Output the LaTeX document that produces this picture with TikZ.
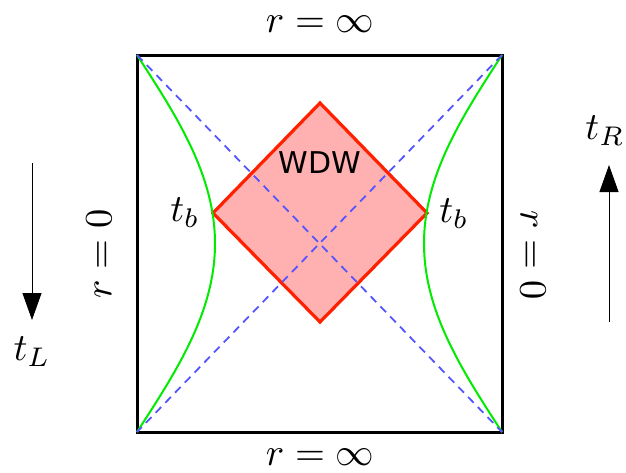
\documentclass[tikz,border=0pt]{standalone}
\usepackage{fontspec}
\newfontfamily\wdwfont{DejaVu Sans}
\usetikzlibrary{arrows.meta}
\definecolor{dashblue}{RGB}{85,85,255}
\definecolor{diamfill}{RGB}{255,176,176}
\definecolor{diamred}{RGB}{255,32,0}
\definecolor{curvegreen}{RGB}{0,235,0}
\begin{document}
\begin{tikzpicture}[x=1pt,y=-1pt,
  lbl/.style={scale=3.85,inner sep=0pt},
  boxline/.style={line width=3pt,black},
  nullline/.style={dashblue,line width=1.8pt,dash pattern=on 8pt off 6pt},
  horizon/.style={curvegreen,line width=2pt},
  wdwregion/.style={fill=diamfill,draw=diamred,line width=3.2pt,line join=miter},
  timearrow/.style={line width=0.9pt,-{Triangle[length=27pt,width=19pt]}}]
\useasboundingbox (0,0) rectangle (626,472);
\coordinate (tl) at (137,55);
\coordinate (tr) at (502,55);
\coordinate (br) at (502,432);
\coordinate (bl) at (137,432);
\coordinate (dt) at (320,103);
\coordinate (dl) at (213,213);
\coordinate (dr) at (427,213);
\coordinate (db) at (320,322);
\draw[boxline] (tl) -- (tr) -- (br) -- (bl) -- cycle;
\draw[wdwregion] (dt) -- (dr) -- (db) -- (dl) -- cycle;
\draw[horizon] plot[domain=-188.5:188.5,samples=80,variable=\q] ({137+78*cos(0.47745*\q)},{243.5+\q});
\draw[horizon] plot[domain=-188.5:188.5,samples=80,variable=\q] ({502-78*cos(0.47745*\q)},{243.5+\q});
\draw[nullline] (tl) -- (br);
\draw[nullline] (tr) -- (bl);
\node[font=\wdwfont\fontsize{30}{34}\selectfont] (wdw) at (320,163) {WDW};
\node[lbl] (tbl) at (185,213) {$t_b$};
\node[lbl] (tbr) at (454,214) {$t_b$};
\node[lbl] (rtop) at (320,24) {$r=\infty$};
\node[lbl] (rbot) at (320,457) {$r=\infty$};
\node[lbl,rotate=90] (rleft) at (99,254) {$r=0$};
\node[lbl,rotate=-90] (rright) at (533,255) {$r=0$};
\coordinate (la) at (32,163);
\coordinate (lb) at (32,320);
\coordinate (ra) at (609,322);
\coordinate (rb) at (609,165);
\draw[timearrow] (la) -- (lb);
\draw[timearrow] (ra) -- (rb);
\node[lbl] (tL) at (32,352) {$t_L$};
\node[lbl] (tR) at (605,131) {$t_R$};
\end{tikzpicture}
\end{document}
